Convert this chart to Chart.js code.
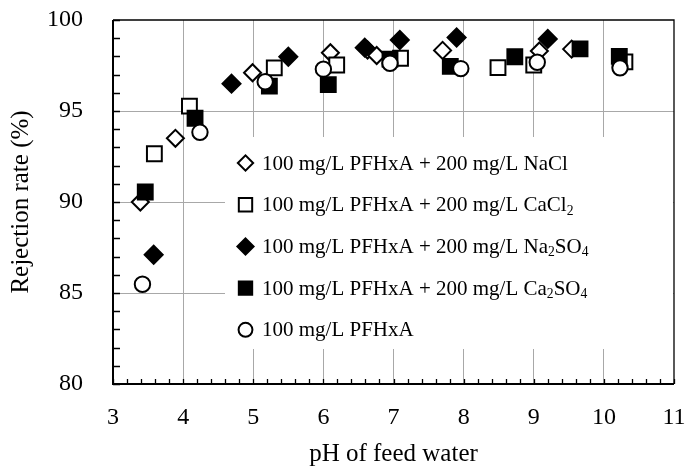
<!DOCTYPE html>
<html>
<head>
<meta charset="utf-8">
<script src="https://cdn.jsdelivr.net/npm/chart.js@4.4.0/dist/chart.umd.min.js"></script>
<style>
    html, body { margin: 0; padding: 0; background: #fff; }
    #wrap { position: relative; width: 687px; height: 467px; }
</style>
</head>
<body>
<div id="wrap"><canvas id="grafica-rechazo"></canvas></div>
<script>
// valores: pH de alimentacion y tasa de rechazo (%)
const phNaCl = [3.39, 3.89, 4.99, 6.10, 6.63, 6.76, 7.70, 9.08, 9.54];
const rrNaCl = [90.0, 93.5, 97.1, 98.2, 98.35, 98.05, 98.33, 98.3, 98.4];

const phCaCl2 = [3.59, 4.09, 5.30, 6.19, 7.10, 8.49, 9.00, 10.30];
const rrCaCl2 = [92.65, 95.27, 97.37, 97.53, 97.9, 97.38, 97.53, 97.7];

const phNa2SO4 = [3.58, 4.69, 5.50, 6.59, 7.09, 7.90, 9.20];
const rrNa2SO4 = [87.1, 96.5, 97.98, 98.48, 98.9, 99.04, 98.96];

const phCa2SO4 = [3.46, 4.17, 5.23, 6.07, 6.95, 7.81, 8.73, 9.66, 10.22];
const rrCa2SO4 = [90.55, 94.6, 96.37, 96.45, 97.85, 97.45, 97.98, 98.41, 98.0];

const phPFHxA = [3.42, 4.24, 5.17, 6.00, 6.95, 7.96, 9.05, 10.23];
const rrPFHxA = [85.48, 93.83, 96.61, 97.3, 97.62, 97.33, 97.68, 97.37];

const xTicks = [3, 4, 5, 6, 7, 8, 9, 10, 11];
const yTicks = [80, 85, 90, 95, 100];

const etiquetas = [
    '100 mg/L PFHxA + 200 mg/L NaCl',
    '100 mg/L PFHxA + 200 mg/L CaCl₂',
    '100 mg/L PFHxA + 200 mg/L Na₂SO₄',
    '100 mg/L PFHxA + 200 mg/L Ca₂SO₄',
    '100 mg/L PFHxA'
];

const puntos = (xs, ys) => xs.map((x, i) => ({ x: x, y: ys[i] }));

const SERIF = '"Liberation Serif", "Times New Roman", serif';
Chart.defaults.font.family = SERIF;
Chart.defaults.color = '#000';

// leyenda dentro del area de la grafica, con fondo blanco
const leyendaInterna = {
    id: 'leyendaInterna',
    afterDatasetsDraw(chart, args, opts) {
        const ctx = chart.ctx;
        const area = chart.chartArea;
        ctx.save();
        ctx.fillStyle = '#fff';
        ctx.fillRect(opts.left, opts.top, area.right - 1 - opts.left, opts.bottom - opts.top);

        chart.data.datasets.forEach((ds, i) => {
            const y = opts.firstRow + i * opts.rowGap;
            ctx.fillStyle = ds.backgroundColor;
            ctx.strokeStyle = ds.borderColor;
            ctx.lineWidth = ds.borderWidth;
            Chart.helpers.drawPoint(ctx, {
                pointStyle: ds.pointStyle,
                radius: ds.pointRadius * 0.9,
                borderWidth: ds.borderWidth,
                rotation: 0
            }, opts.markerX, y);

            // texto con subindices
            let x = opts.textX;
            ctx.fillStyle = '#000';
            ctx.textBaseline = 'middle';
            ctx.textAlign = 'left';
            for (const ch of ds.label) {
                const sub = { '₂': '2', '₄': '4' }[ch];
                if (sub) {
                    ctx.font = (opts.fontSize * 0.65) + 'px ' + SERIF;
                    ctx.fillText(sub, x, y + opts.fontSize * 0.3);
                    x += ctx.measureText(sub).width;
                } else {
                    ctx.font = opts.fontSize + 'px ' + SERIF;
                    ctx.fillText(ch, x, y + 1);
                    x += ctx.measureText(ch).width;
                }
            }
        });
        ctx.restore();
    }
};

// marco negro y marcas menores hacia adentro
const marco = {
    id: 'marco',
    afterDraw(chart) {
        const ctx = chart.ctx;
        const { left, right, top, bottom } = chart.chartArea;
        const xs = chart.scales.x;
        const ys = chart.scales.y;
        ctx.save();
        ctx.strokeStyle = '#000';
        ctx.lineWidth = 1.3;
        ctx.beginPath();
        for (let v = 80; v <= 100; v++) {
            const y = Math.round(ys.getPixelForValue(v)) + 0.5;
            ctx.moveTo(left, y);
            ctx.lineTo(left + 7, y);
        }
        for (let k = 0; k <= 40; k++) {
            const x = Math.round(xs.getPixelForValue(3 + k * 0.2)) + 0.5;
            ctx.moveTo(x, bottom);
            ctx.lineTo(x, bottom - 5);
        }
        ctx.stroke();

        ctx.lineWidth = 1.3;
        ctx.beginPath();
        ctx.moveTo(left, top);
        ctx.lineTo(right, top);
        ctx.lineTo(right, bottom);
        ctx.stroke();

        ctx.lineWidth = 2;
        ctx.beginPath();
        ctx.moveTo(left, top);
        ctx.lineTo(left, bottom);
        ctx.lineTo(right, bottom);
        ctx.stroke();
        ctx.restore();
    }
};

const ocultarBordes = (valores) => (c) =>
    (c.tick && valores.includes(c.tick.value)) ? 'rgba(0,0,0,0)' : '#a8a8a8';

const chart = new Chart(document.getElementById('grafica-rechazo'), {
    type: 'scatter',
    data: {
        datasets: [{
            label: etiquetas[0],
            data: puntos(phNaCl, rrNaCl),
            pointStyle: 'rectRot',
            pointRadius: 8.5,
            backgroundColor: '#fff',
            borderColor: '#000',
            borderWidth: 2,
            order: 5
        }, {
            label: etiquetas[1],
            data: puntos(phCaCl2, rrCaCl2),
            pointStyle: 'rect',
            pointRadius: 10.5,
            backgroundColor: '#fff',
            borderColor: '#000',
            borderWidth: 2,
            order: 4
        }, {
            label: etiquetas[2],
            data: puntos(phNa2SO4, rrNa2SO4),
            pointStyle: 'rectRot',
            pointRadius: 9,
            backgroundColor: '#000',
            borderColor: '#000',
            borderWidth: 2,
            order: 3
        }, {
            label: etiquetas[3],
            data: puntos(phCa2SO4, rrCa2SO4),
            pointStyle: 'rect',
            pointRadius: 10.5,
            backgroundColor: '#000',
            borderColor: '#000',
            borderWidth: 2,
            order: 2
        }, {
            label: etiquetas[4],
            data: puntos(phPFHxA, rrPFHxA),
            pointStyle: 'circle',
            pointRadius: 7.7,
            backgroundColor: '#fff',
            borderColor: '#000',
            borderWidth: 2,
            order: 1
        }]
    },
    options: {
        responsive: true,
        maintainAspectRatio: false,
        animation: false,
        events: [],
        layout: { padding: { left: 0, right: 13, top: 20, bottom: 0 } },
        plugins: {
            legend: { display: false },
            tooltip: { enabled: false },
            leyendaInterna: {
                left: 225, top: 137, bottom: 349,
                markerX: 245.5, textX: 262,
                firstRow: 163, rowGap: 41.7,
                fontSize: 21
            }
        },
        scales: {
            x: {
                type: 'linear',
                min: 3,
                max: 11,
                afterBuildTicks: (s) => { s.ticks = xTicks.map(v => ({ value: v })); },
                afterFit: (s) => {
                    s.height = 83;
                    s.paddingLeft = 0;
                    s.paddingRight = 0;
                },
                ticks: { padding: 19, font: { size: 24 } },
                grid: { color: ocultarBordes([3, 11]), lineWidth: 1, drawTicks: false },
                border: { display: false },
                title: {
                    display: true,
                    text: 'pH of feed water',
                    font: { size: 25, lineHeight: 1 },
                    padding: 0
                }
            },
            y: {
                type: 'linear',
                min: 80,
                max: 100,
                afterBuildTicks: (s) => { s.ticks = yTicks.map(v => ({ value: v })); },
                afterFit: (s) => {
                    s.width = 113;
                    s.paddingTop = 0;
                    s.paddingBottom = 0;
                },
                ticks: { padding: 30, font: { size: 24 } },
                grid: { color: ocultarBordes([80, 100]), lineWidth: 1, drawTicks: false },
                border: { display: false },
                title: {
                    display: true,
                    text: 'Rejection rate (%)',
                    font: { size: 25, lineHeight: 1 },
                    padding: { top: 9, bottom: 0 }
                }
            }
        }
    },
    plugins: [leyendaInterna, marco]
});
</script>
</body>
</html>
